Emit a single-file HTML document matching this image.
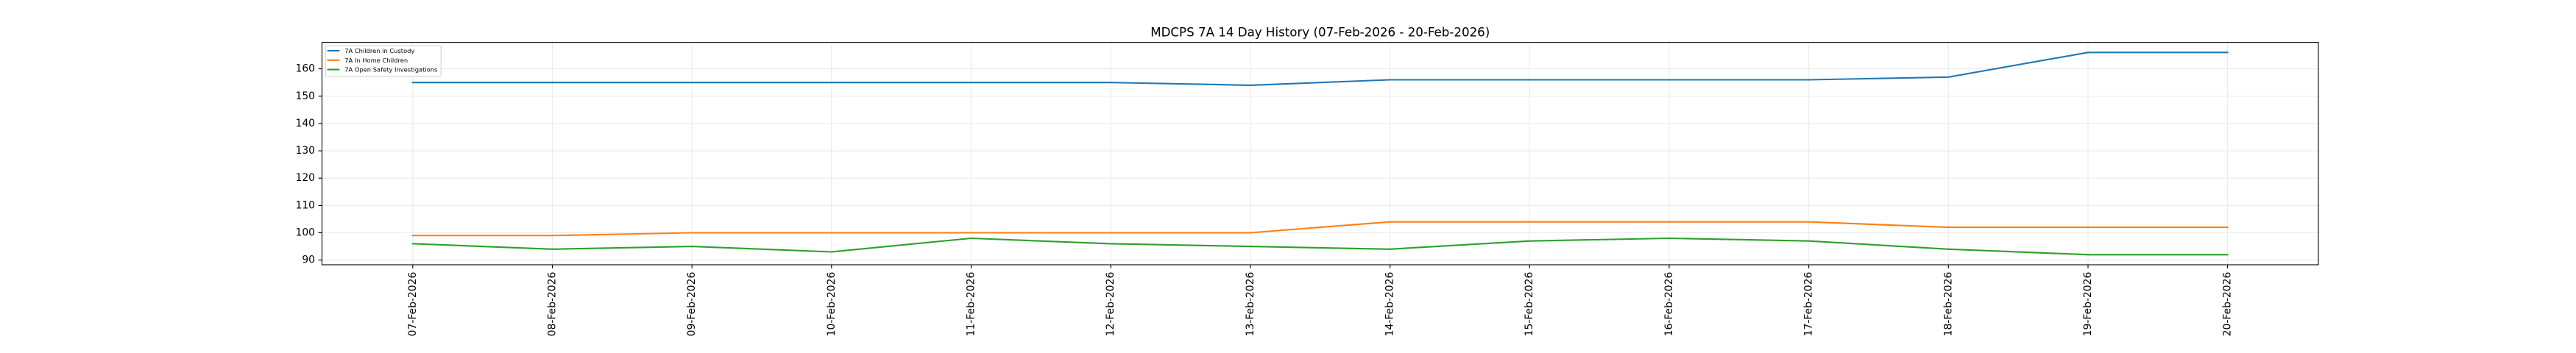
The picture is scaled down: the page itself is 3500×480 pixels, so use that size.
<!DOCTYPE html>
<html><head><meta charset="utf-8"><style>
html,body{margin:0;padding:0;background:#fff;}
svg{display:block;}
text{font-family:"DejaVu Sans","Liberation Sans",sans-serif;fill:#000;}
</style></head><body>
<svg width="3500" height="480" viewBox="0 0 3500 480" xmlns="http://www.w3.org/2000/svg">
<rect x="0" y="0" width="3500" height="480" fill="#fff"/>
<!-- grid -->
<g stroke="#ebebeb" stroke-width="1.1">
<line x1="560.8" y1="57.6" x2="560.8" y2="360"/>
<line x1="750.5" y1="57.6" x2="750.5" y2="360"/>
<line x1="940.2" y1="57.6" x2="940.2" y2="360"/>
<line x1="1129.8" y1="57.6" x2="1129.8" y2="360"/>
<line x1="1319.5" y1="57.6" x2="1319.5" y2="360"/>
<line x1="1509.2" y1="57.6" x2="1509.2" y2="360"/>
<line x1="1698.9" y1="57.6" x2="1698.9" y2="360"/>
<line x1="1888.6" y1="57.6" x2="1888.6" y2="360"/>
<line x1="2078.2" y1="57.6" x2="2078.2" y2="360"/>
<line x1="2267.9" y1="57.6" x2="2267.9" y2="360"/>
<line x1="2457.6" y1="57.6" x2="2457.6" y2="360"/>
<line x1="2647.3" y1="57.6" x2="2647.3" y2="360"/>
<line x1="2837.0" y1="57.6" x2="2837.0" y2="360"/>
<line x1="3026.6" y1="57.6" x2="3026.6" y2="360"/>
<line x1="437.5" y1="353.7" x2="3150" y2="353.7"/>
<line x1="437.5" y1="316.5" x2="3150" y2="316.5"/>
<line x1="437.5" y1="279.4" x2="3150" y2="279.4"/>
<line x1="437.5" y1="242.2" x2="3150" y2="242.2"/>
<line x1="437.5" y1="205.1" x2="3150" y2="205.1"/>
<line x1="437.5" y1="167.9" x2="3150" y2="167.9"/>
<line x1="437.5" y1="130.8" x2="3150" y2="130.8"/>
<line x1="437.5" y1="93.6" x2="3150" y2="93.6"/>
</g>
<!-- series -->
<g fill="none" stroke-width="2.1" stroke-linejoin="round" stroke-linecap="square">
<polyline stroke="#1f77b4" points="560.8,112.2 750.5,112.2 940.2,112.2 1129.8,112.2 1319.5,112.2 1509.2,112.2 1698.9,115.9 1888.6,108.5 2078.2,108.5 2267.9,108.5 2457.6,108.5 2647.3,104.8 2837.0,71.3 3026.6,71.3"/>
<polyline stroke="#ff7f0e" points="560.8,320.25 750.5,320.25 940.2,316.5 1129.8,316.5 1319.5,316.5 1509.2,316.5 1698.9,316.5 1888.6,301.7 2078.2,301.7 2267.9,301.7 2457.6,301.7 2647.3,309.1 2837.0,309.1 3026.6,309.1"/>
<polyline stroke="#2ca02c" points="560.8,331.4 750.5,338.8 940.2,335.1 1129.8,342.5 1319.5,324.0 1509.2,331.4 1698.9,335.1 1888.6,338.8 2078.2,327.7 2267.9,324.0 2457.6,327.7 2647.3,338.8 2837.0,346.3 3026.6,346.3"/>
</g>
<!-- spines -->
<rect x="437.5" y="57.6" width="2712.5" height="302.4" fill="none" stroke="#000" stroke-width="1.1"/>
<!-- ticks -->
<g stroke="#000" stroke-width="1.1">
<line x1="560.8" y1="360" x2="560.8" y2="364.9"/>
<line x1="750.5" y1="360" x2="750.5" y2="364.9"/>
<line x1="940.2" y1="360" x2="940.2" y2="364.9"/>
<line x1="1129.8" y1="360" x2="1129.8" y2="364.9"/>
<line x1="1319.5" y1="360" x2="1319.5" y2="364.9"/>
<line x1="1509.2" y1="360" x2="1509.2" y2="364.9"/>
<line x1="1698.9" y1="360" x2="1698.9" y2="364.9"/>
<line x1="1888.6" y1="360" x2="1888.6" y2="364.9"/>
<line x1="2078.2" y1="360" x2="2078.2" y2="364.9"/>
<line x1="2267.9" y1="360" x2="2267.9" y2="364.9"/>
<line x1="2457.6" y1="360" x2="2457.6" y2="364.9"/>
<line x1="2647.3" y1="360" x2="2647.3" y2="364.9"/>
<line x1="2837.0" y1="360" x2="2837.0" y2="364.9"/>
<line x1="3026.6" y1="360" x2="3026.6" y2="364.9"/>
<line x1="432.6" y1="353.7" x2="437.5" y2="353.7"/>
<line x1="432.6" y1="316.5" x2="437.5" y2="316.5"/>
<line x1="432.6" y1="279.4" x2="437.5" y2="279.4"/>
<line x1="432.6" y1="242.2" x2="437.5" y2="242.2"/>
<line x1="432.6" y1="205.1" x2="437.5" y2="205.1"/>
<line x1="432.6" y1="167.9" x2="437.5" y2="167.9"/>
<line x1="432.6" y1="130.8" x2="437.5" y2="130.8"/>
<line x1="432.6" y1="93.6" x2="437.5" y2="93.6"/>
</g>
<!-- y tick labels -->
<g font-size="13.9" text-anchor="end" dominant-baseline="central">
<text x="428" y="353.7">90</text>
<text x="428" y="316.5">100</text>
<text x="428" y="279.4">110</text>
<text x="428" y="242.2">120</text>
<text x="428" y="205.1">130</text>
<text x="428" y="167.9">140</text>
<text x="428" y="130.8">150</text>
<text x="428" y="93.6">160</text>
</g>
<!-- x tick labels -->
<g font-size="13.9" text-anchor="end" dominant-baseline="central">
<text transform="translate(560.8,369.7) rotate(-90)">07-Feb-2026</text>
<text transform="translate(750.5,369.7) rotate(-90)">08-Feb-2026</text>
<text transform="translate(940.2,369.7) rotate(-90)">09-Feb-2026</text>
<text transform="translate(1129.8,369.7) rotate(-90)">10-Feb-2026</text>
<text transform="translate(1319.5,369.7) rotate(-90)">11-Feb-2026</text>
<text transform="translate(1509.2,369.7) rotate(-90)">12-Feb-2026</text>
<text transform="translate(1698.9,369.7) rotate(-90)">13-Feb-2026</text>
<text transform="translate(1888.6,369.7) rotate(-90)">14-Feb-2026</text>
<text transform="translate(2078.2,369.7) rotate(-90)">15-Feb-2026</text>
<text transform="translate(2267.9,369.7) rotate(-90)">16-Feb-2026</text>
<text transform="translate(2457.6,369.7) rotate(-90)">17-Feb-2026</text>
<text transform="translate(2647.3,369.7) rotate(-90)">18-Feb-2026</text>
<text transform="translate(2837.0,369.7) rotate(-90)">19-Feb-2026</text>
<text transform="translate(3026.6,369.7) rotate(-90)">20-Feb-2026</text>
</g>
<!-- title -->
<text x="1793.75" y="49.5" font-size="16.67" text-anchor="middle">MDCPS 7A 14 Day History (07-Feb-2026 - 20-Feb-2026)</text>
<!-- legend -->
<rect x="442.2" y="62.2" width="157" height="41.8" rx="2" ry="2" fill="#fff" fill-opacity="0.8" stroke="#cccccc" stroke-width="1"/>
<g stroke-width="2.1">
<line x1="444.6" y1="69" x2="461.3" y2="69" stroke="#1f77b4"/>
<line x1="444.6" y1="81.8" x2="461.3" y2="81.8" stroke="#ff7f0e"/>
<line x1="444.6" y1="94.6" x2="461.3" y2="94.6" stroke="#2ca02c"/>
</g>
<g font-size="8.33" dominant-baseline="central">
<text x="468.2" y="69">7A Children in Custody</text>
<text x="468.2" y="81.8">7A In Home Children</text>
<text x="468.2" y="94.6">7A Open Safety Investigations</text>
</g>
</svg>
</body></html>
